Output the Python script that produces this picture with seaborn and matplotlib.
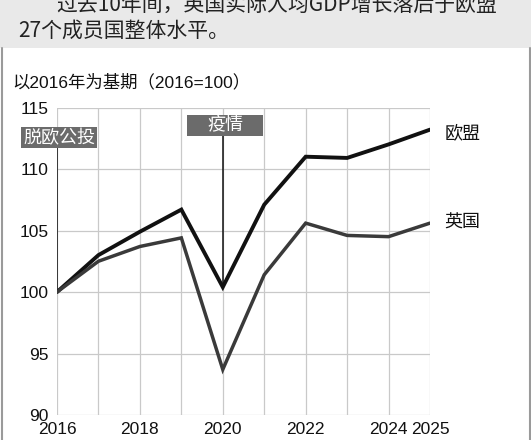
import matplotlib
matplotlib.use("Agg")
import matplotlib.pyplot as plt
from matplotlib.patches import Rectangle
from matplotlib.lines import Line2D
import seaborn as sns
import pandas as pd

years = [2016, 2017, 2018, 2019, 2020, 2021, 2022, 2023, 2024, 2025]
eu = [100.0, 103.0, 104.9, 106.7, 100.4, 107.1, 111.0, 110.9, 112.0, 113.2]
uk = [100.0, 102.5, 103.7, 104.4, 93.7, 101.4, 105.6, 104.6, 104.5, 105.6]
series_names = ["欧盟", "英国"]
xticks = [2016, 2018, 2020, 2022, 2024, 2025]
yticks = [90, 95, 100, 105, 110, 115]
events = [(2016, "脱欧公投"), (2020, "疫情")]
title_line1 = "过去10年间，英国实际人均GDP增长落后于欧盟"
title_line2 = "27个成员国整体水平。"
subtitle = "以2016年为基期（2016=100）"

sns.set_style("white")
plt.rcParams["font.family"] = ["Liberation Sans", "Noto Sans CJK SC", "DejaVu Sans"]
cjk = ["Noto Sans CJK SC", "DejaVu Sans"]

df = pd.DataFrame({
    "year": years * 2,
    "value": eu + uk,
    "series": [series_names[0]] * len(years) + [series_names[1]] * len(years),
})

W, H = 531, 440
fig = plt.figure(figsize=(W / 100, H / 100), dpi=100)

def fx(px):
    return px / W

def fy(py):
    return 1 - py / H

# header band
fig.patches.append(Rectangle((0, fy(48)), 1, 48 / H, transform=fig.transFigure,
                             facecolor="#e9e9e9", edgecolor="none", zorder=0))
fig.lines.append(Line2D([fx(1.5), fx(1.5)], [0, fy(48)], transform=fig.transFigure,
                        color="#9a9a9a", lw=1.5))
fig.lines.append(Line2D([fx(529.5), fx(529.5)], [0, fy(48)], transform=fig.transFigure,
                        color="#9a9a9a", lw=1.5))
fig.text(fx(56), fy(5), title_line1, fontsize=15, color="#222222", va="center",
         ha="left", family=cjk)
fig.text(fx(18), fy(31), title_line2, fontsize=15, color="#222222", va="center",
         ha="left", family=cjk)
fig.text(fx(12), fy(82), subtitle, fontsize=12.5, color="#111111", va="center", ha="left")

ax = fig.add_axes([fx(57), fy(415), fx(430) - fx(57), fy(107.5) - fy(415)])
sns.lineplot(data=df, x="year", y="value", hue="series", palette=["#111111", "#3a3a3a"],
             ax=ax, legend=False, linewidth=2.6, zorder=3)
for ln, w in zip(ax.lines, [2.8, 2.5]):
    ln.set_linewidth(w)
    ln.set_solid_joinstyle("miter")

ax.set_xlim(2016, 2025)
ax.set_ylim(90, 115)
ax.set_xticks(years)
ax.set_xticklabels([str(y) if y in xticks else "" for y in years])
ax.set_yticks(yticks)
ax.grid(True, color="#c9c9c9", lw=0.9)
for s in ax.spines.values():
    s.set_visible(False)
ax.tick_params(axis="both", length=0, labelsize=12.5, colors="#111111")
ax.tick_params(axis="x", pad=5)
ax.tick_params(axis="y", pad=6)
ax.set_xlabel("")
ax.set_ylabel("")

# event markers
box_centers = {2016: (59, 138), 2020: (225, 125.5)}
for (yr, label) in events:
    cx, cy = box_centers[yr]
    start = eu[years.index(yr)]
    top_val = 90 + (415 - (cy + 10)) / 12.3
    ax.plot([yr, yr], [start, top_val], color="#111111", lw=1.1, zorder=2)
    fig.patches.append(Rectangle((fx(cx - 38), fy(cy + 10)), 76 / W, 20.5 / H,
                                 transform=fig.transFigure, facecolor="#6b6b6b",
                                 edgecolor="none", zorder=5))
    fig.text(fx(cx), fy(cy), label, color="white", fontsize=13, ha="center",
             va="center", zorder=6, family=cjk)

# end labels
ax.text(2025.35, eu[-1] - 0.25, series_names[0], fontsize=13, color="#111111",
        ha="left", va="center", clip_on=False, family=cjk)
ax.text(2025.35, uk[-1] + 0.05, series_names[1], fontsize=13, color="#111111",
        ha="left", va="center", clip_on=False, family=cjk)

fig.savefig("out.png", dpi=100)
